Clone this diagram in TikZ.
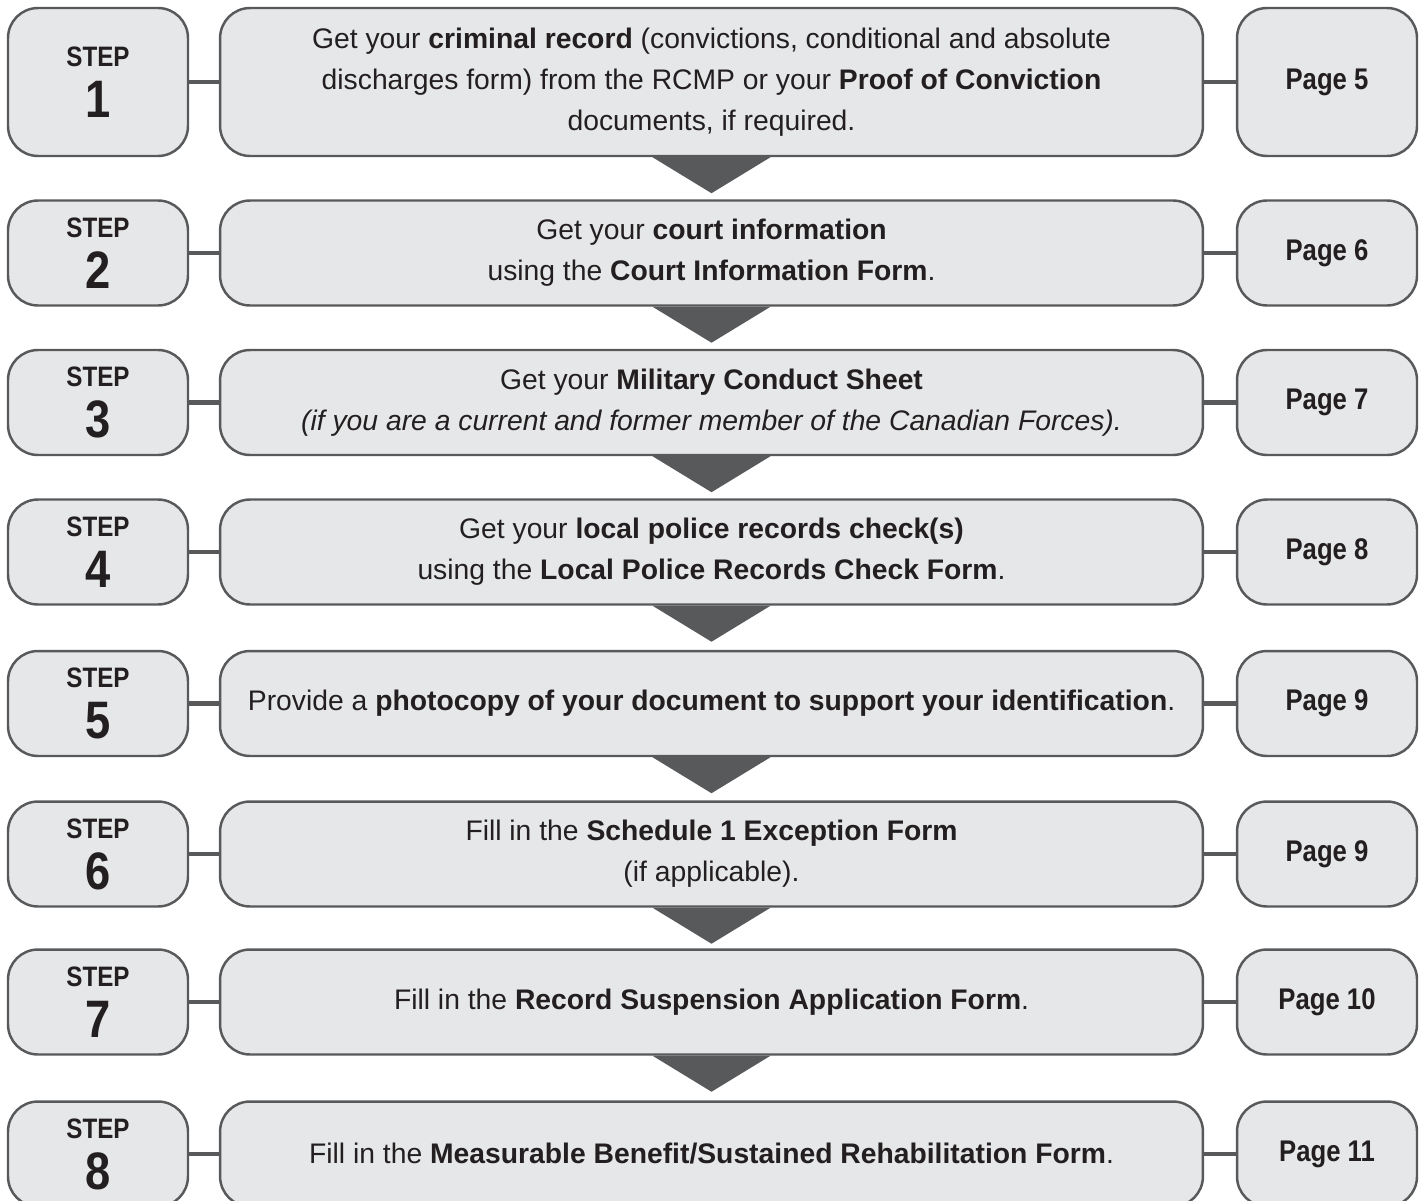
\documentclass[tikz,border=0pt]{standalone}
\usepackage{fontspec}
\setmainfont{Liberation Sans}
\newfontfamily\narrowfont{Liberation Sans}[FakeStretch=0.86]
\definecolor{boxfill}{HTML}{E6E7E8}
\definecolor{boxline}{HTML}{58595B}
\definecolor{inktext}{HTML}{231F20}
\newcommand{\stepnum}[1]{\narrowfont\bfseries\fontsize{16}{18}\selectfont STEP\\[7pt]%
    \narrowfont\bfseries\fontsize{30}{20}\selectfont #1}
\begin{document}
\begin{tikzpicture}[x=0.02cm, y=-0.02cm,
    box/.style = {draw=boxline, fill=boxfill, line width=1.4pt, rounded corners=0.6cm,
                  text=inktext, inner sep=0pt, align=center},
    stepbox/.style = {box, minimum width=3.6cm, minimum height=2.1cm},
    taskbox/.style = {box, minimum width=19.66cm, minimum height=2.1cm,
                      font=\fontsize{16.1}{23.3}\selectfont},
    pagebox/.style = {box, minimum width=3.6cm, minimum height=2.1cm,
                      font=\narrowfont\bfseries\fontsize{17}{18}\selectfont},
    link/.style = {draw=boxline, line width=2.8pt},
    pointer/.style = {fill=boxline}]

    \useasboundingbox (0, 0) rectangle (1425, 1200);

    % step 1 (taller row)
    \node[stepbox, minimum height=2.96cm] (step1) at (98, 82) {\stepnum{1}};
    \node[taskbox, minimum height=2.96cm] (task1) at (711.5, 82)
        {Get your \textbf{criminal record} (convictions, conditional and absolute\\
         discharges form) from the RCMP or your \textbf{Proof of Conviction}\\
         documents, if required.};
    \node[pagebox, minimum height=2.96cm] (page1) at (1327, 82) {Page 5};

    % step 2
    \node[stepbox] (step2) at (98, 253) {\stepnum{2}};
    \node[taskbox] (task2) at (711.5, 253)
        {Get your \textbf{court information}\\
         using the \textbf{Court Information Form}.};
    \node[pagebox] (page2) at (1327, 253) {Page 6};

    % step 3
    \node[stepbox] (step3) at (98, 402.5) {\stepnum{3}};
    \node[taskbox] (task3) at (711.5, 402.5)
        {Get your \textbf{Military Conduct Sheet}\\
         \textit{(if you are a current and former member of the Canadian Forces).}};
    \node[pagebox] (page3) at (1327, 402.5) {Page 7};

    % step 4
    \node[stepbox] (step4) at (98, 552) {\stepnum{4}};
    \node[taskbox] (task4) at (711.5, 552)
        {Get your \textbf{local police records check(s)}\\
         using the \textbf{Local Police Records Check Form}.};
    \node[pagebox] (page4) at (1327, 552) {Page 8};

    % step 5
    \node[stepbox] (step5) at (98, 703.5) {\stepnum{5}};
    \node[taskbox] (task5) at (711.5, 703.5)
        {Provide a \textbf{photocopy of your document to support your identification}.};
    \node[pagebox] (page5) at (1327, 703.5) {Page 9};

    % step 6
    \node[stepbox] (step6) at (98, 854) {\stepnum{6}};
    \node[taskbox] (task6) at (711.5, 854)
        {Fill in the \textbf{Schedule 1 Exception Form}\\
         (if applicable).};
    \node[pagebox] (page6) at (1327, 854) {Page 9};

    % step 7
    \node[stepbox] (step7) at (98, 1002) {\stepnum{7}};
    \node[taskbox] (task7) at (711.5, 1002)
        {Fill in the \textbf{Record Suspension Application Form}.};
    \node[pagebox] (page7) at (1327, 1002) {Page 10};

    % step 8
    \node[stepbox] (step8) at (98, 1154) {\stepnum{8}};
    \node[taskbox] (task8) at (711.5, 1154)
        {Fill in the \textbf{Measurable Benefit/Sustained Rehabilitation Form}.};
    \node[pagebox] (page8) at (1327, 1154) {Page 11};

    % links
    \draw[link] (step1) -- (task1);  \draw[link] (task1) -- (page1);
    \draw[link] (step2) -- (task2);  \draw[link] (task2) -- (page2);
    \draw[link] (step3) -- (task3);  \draw[link] (task3) -- (page3);
    \draw[link] (step4) -- (task4);  \draw[link] (task4) -- (page4);
    \draw[link] (step5) -- (task5);  \draw[link] (task5) -- (page5);
    \draw[link] (step6) -- (task6);  \draw[link] (task6) -- (page6);
    \draw[link] (step7) -- (task7);  \draw[link] (task7) -- (page7);
    \draw[link] (step8) -- (task8);  \draw[link] (task8) -- (page8);

    % pointers between rows
    \fill[pointer] (task1.south) ++(-59, 0) -- ++(118, 0) -- ++(-59, 36) -- cycle;
    \fill[pointer] (task2.south) ++(-59, 0) -- ++(118, 0) -- ++(-59, 36) -- cycle;
    \fill[pointer] (task3.south) ++(-59, 0) -- ++(118, 0) -- ++(-59, 36) -- cycle;
    \fill[pointer] (task4.south) ++(-59, 0) -- ++(118, 0) -- ++(-59, 36) -- cycle;
    \fill[pointer] (task5.south) ++(-59, 0) -- ++(118, 0) -- ++(-59, 36) -- cycle;
    \fill[pointer] (task6.south) ++(-59, 0) -- ++(118, 0) -- ++(-59, 36) -- cycle;
    \fill[pointer] (task7.south) ++(-59, 0) -- ++(118, 0) -- ++(-59, 36) -- cycle;

\end{tikzpicture}
\end{document}
